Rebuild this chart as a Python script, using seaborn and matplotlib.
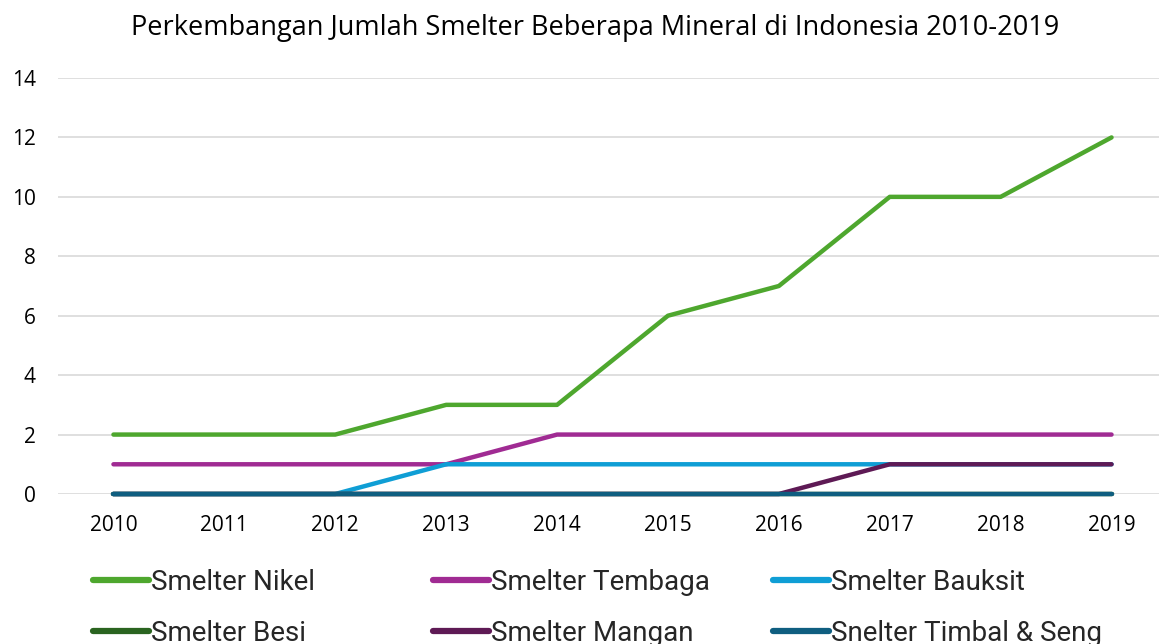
import matplotlib
matplotlib.use("Agg")
import matplotlib.pyplot as plt
import seaborn as sns
import pandas as pd
from matplotlib.lines import Line2D

years = ["2010", "2011", "2012", "2013", "2014", "2015", "2016", "2017", "2018", "2019"]
nikel = [2, 2, 2, 3, 3, 6, 7, 10, 10, 12]
tembaga = [1, 1, 1, 1, 2, 2, 2, 2, 2, 2]
bauksit = [0, 0, 0, 1, 1, 1, 1, 1, 1, 1]
besi = [0, 0, 0, 0, 0, 0, 0, 0, 0, 0]
mangan = [0, 0, 0, 0, 0, 0, 0, 1, 1, 1]
timbal = [0, 0, 0, 0, 0, 0, 0, 0, 0, 0]
series_names = ["Smelter Nikel", "Smelter Tembaga", "Smelter Bauksit",
                "Smelter Besi", "Smelter Mangan", "Snelter Timbal & Seng"]
colors = ["#4EA72E", "#A02B93", "#0F9ED5", "#2A6420", "#5E1A55", "#0F5E80"]

rows = []
for name, vals in zip(series_names, [nikel, tembaga, bauksit, besi, mangan, timbal]):
    for i, v in enumerate(vals):
        rows.append({"Tahun": i, "Jumlah": v, "Seri": name})
df = pd.DataFrame(rows)

sns.set_style("white")
plt.rcParams["font.family"] = ["Open Sans", "DejaVu Sans"]

fig = plt.figure(figsize=(11.59, 6.44), dpi=100)
ax = fig.add_axes([58 / 1159, 1 - 494 / 644, (1167 - 58) / 1159, (494 - 78) / 644])

sns.lineplot(data=df, x="Tahun", y="Jumlah", hue="Seri", hue_order=series_names,
             palette=colors, linewidth=3.2, ax=ax, legend=False,
             solid_capstyle="round", solid_joinstyle="round")
for ln in ax.get_lines():
    ln.set_clip_on(False)

ax.set_xlim(-0.5, 9.5)
ax.set_ylim(0, 14)
ax.set_yticks(range(0, 15, 2))
ax.set_xticks(range(len(years)))
ax.set_xticklabels(years)
ax.yaxis.grid(True, color="#D9D9D9", linewidth=1.2)
ax.set_axisbelow(True)
for s in ax.spines.values():
    s.set_visible(False)
ax.tick_params(axis="both", length=0, labelsize=15, colors="#000000")
ax.tick_params(axis="x", pad=15)
ax.tick_params(axis="y", pad=16)
ax.set_xlabel("")
ax.set_ylabel("")

fig.text(595 / 1159, 1 - 28 / 644, "Perkembangan Jumlah Smelter Beberapa Mineral di Indonesia 2010-2019",
         ha="center", va="center", fontsize=19.5, color="#000000")

col_x = [93, 433, 773]
for c in range(3):
    idx = [c, c + 3]
    handles = [Line2D([0], [0], color=colors[i], linewidth=4.5, solid_capstyle="round") for i in idx]
    labels = [series_names[i] for i in idx]
    leg = fig.legend(handles, labels, loc="upper left", ncol=1,
                     bbox_to_anchor=(col_x[c] / 1159, 1 - 569 / 644), frameon=False,
                     handlelength=2.0, handletextpad=0.08, labelspacing=0.85,
                     borderpad=0, borderaxespad=0,
                     prop={"family": ["Roboto", "DejaVu Sans"], "size": 20})

fig.savefig("out.png", dpi=100)
